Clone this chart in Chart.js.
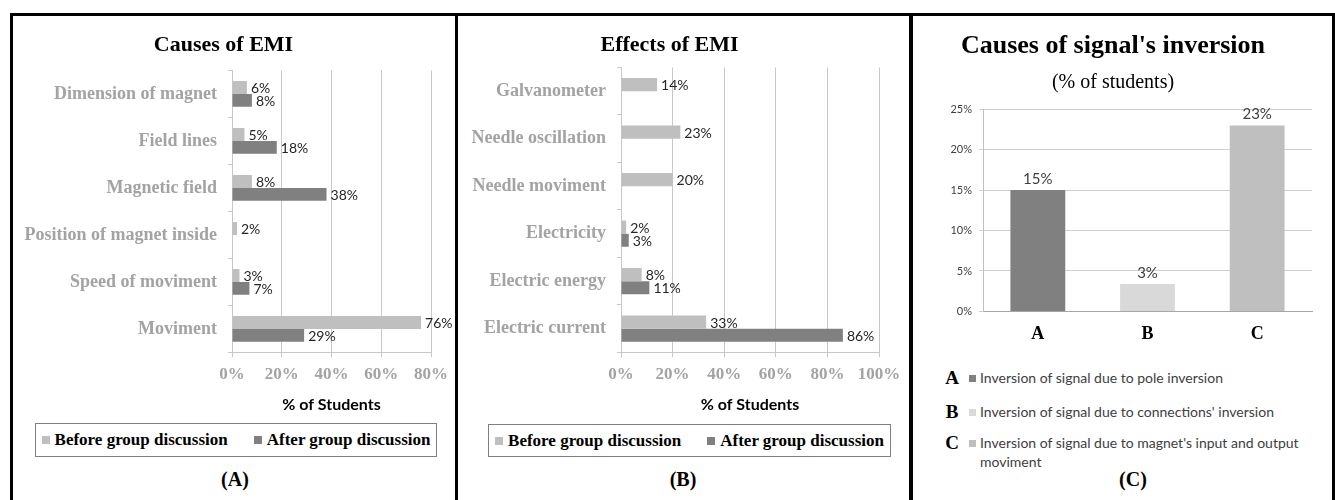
<!DOCTYPE HTML>
<html>
<head>
<title>EMI</title>
<meta charset="utf-8">
<script src="https://cdn.jsdelivr.net/npm/chart.js@4"></script>
<style>
 body { margin:0; width:1335px; height:500px; position:relative; background:#fff; overflow:hidden; }
 .line { position:absolute; background:#000; }
 canvas { position:absolute; }
 .legend { position:absolute; border:1px solid #7f7f7f; display:flex; align-items:center; justify-content:center;
           font:bold 17px "Liberation Serif"; color:#000; box-sizing:border-box; white-space:nowrap; }
 .legend span.sq { display:inline-block; width:8px; height:8px; margin-right:5px; flex:none; }
 .legend span.item { margin:0 13px; display:flex; align-items:center; flex:none; }
 .cap { position:absolute; width:120px; text-align:center; font:bold 20px "Liberation Serif"; color:#000; }
 .keyrow { position:absolute; left:940px; display:flex; align-items:flex-start; }
 .keyrow b { width:24px; text-align:center; font:bold 19px "Liberation Serif"; line-height:20px; }
 .keyrow i { width:7px; height:7px; margin:7px 4px 0 5px; flex:none; }
 .keyrow span { font:14px Lato; color:#404040; width:340px; line-height:19px; }
</style>
</head>
<body>
 <div class="line" style="left:10px;top:13px;width:1325px;height:3px"></div>
 <div class="line" style="left:10px;top:13px;width:3px;height:487px"></div>
 <div class="line" style="left:455px;top:13px;width:3px;height:487px"></div>
 <div class="line" style="left:909px;top:13px;width:4px;height:487px"></div>
 <div class="line" style="left:1332px;top:13px;width:3px;height:487px"></div>

 <canvas id="chartA" width="441" height="400" style="left:14px;top:16px"></canvas>
 <canvas id="chartB" width="448" height="400" style="left:460px;top:16px"></canvas>
 <canvas id="chartC" width="419" height="333" style="left:914px;top:16px"></canvas>

 <div class="legend" id="legA" style="left:35px;top:423px;width:402px;height:34px"></div>
 <div class="legend" id="legB" style="left:488px;top:424px;width:403px;height:33px"></div>
 <div id="keyC"></div>

 <div class="cap" style="left:175px;top:468px">(A)</div>
 <div class="cap" style="left:623px;top:468px">(B)</div>
 <div class="cap" style="left:1073px;top:468px">(C)</div>

<script type="text/javascript">
  // panel A - causes of EMI
  var causesLabels = ["Dimension of magnet", "Field lines", "Magnetic field", "Position of magnet inside", "Speed of moviment", "Moviment"];
  var causesBefore = [6, 5, 8, 2, 3, 76];
  var causesAfter  = [8, 18, 38, null, 7, 29];

  // panel B - effects of EMI
  var effectsLabels = ["Galvanometer", "Needle oscillation", "Needle moviment", "Electricity", "Electric energy", "Electric current"];
  var effectsBefore = [14, 23, 20, 2, 8, 33];
  var effectsAfter  = [null, null, null, 3, 11, 86];

  var seriesNames = ["Before group discussion", "After group discussion"];

  // panel C - signal inversion
  var inversionLabels = ["A", "B", "C"];
  var inversionValues = [15, 3.4, 23];
  var inversionNames = ["Inversion of signal due to pole inversion",
                        "Inversion of signal due to connections' inversion",
                        "Inversion of signal due to magnet's input and output moviment"];

  var chartColors = { light: '#bfbfbf', dark: '#808080', pale: '#d9d9d9', grid: '#c8c8c8', label: '#a3a3a3' };
  var seriesColors = [chartColors.light, chartColors.dark];
  var inversionColors = [chartColors.dark, chartColors.pale, chartColors.light];

  Chart.defaults.animation = false;

  // draws "nn%" next to every bar
  var valueLabels = {
    id: 'valueLabels',
    afterDatasetsDraw: function (chart, args, opts) {
      var ctx = chart.ctx;
      ctx.save();
      ctx.font = opts.font;
      ctx.fillStyle = opts.color;
      chart.data.datasets.forEach(function (ds, i) {
        chart.getDatasetMeta(i).data.forEach(function (bar, j) {
          var v = ds.data[j];
          if (v == null) return;
          var txt = Math.round(v) + '%';
          if (chart.options.indexAxis == 'y') {
            ctx.textAlign = 'left';
            ctx.textBaseline = 'middle';
            ctx.fillText(txt, bar.x + 4, bar.y + 1);
          } else {
            ctx.textAlign = 'center';
            ctx.textBaseline = 'alphabetic';
            ctx.fillText(txt, bar.x, bar.y - 6);
          }
        });
      });
      ctx.restore();
    }
  };

  function hbarChart(id, title, labels, before, after, xmax, axisWidth, padRight, titleBottom) {
    return new Chart(document.getElementById(id), {
      type: 'bar',
      plugins: [valueLabels],
      data: {
        labels: labels,
        datasets: [
          { label: seriesNames[0], data: before, backgroundColor: seriesColors[0], categoryPercentage: 0.55, barPercentage: 1 },
          { label: seriesNames[1], data: after,  backgroundColor: seriesColors[1], categoryPercentage: 0.55, barPercentage: 1 }
        ]
      },
      options: {
        responsive: false,
        indexAxis: 'y',
        layout: { padding: { left: 0, right: padRight, top: 0, bottom: 0 } },
        scales: {
          x: {
            min: 0, max: xmax,
            ticks: { stepSize: 20, padding: 7, color: chartColors.label,
                     font: { family: 'Liberation Serif', size: 17, weight: 'bold' },
                     callback: function (v) { return v + '%'; } },
            grid: { color: chartColors.grid, tickLength: 5 },
            border: { color: chartColors.grid },
            title: { display: true, text: '% of Students', color: '#000',
                     font: { family: 'Lato', size: 16, weight: 'bold' }, padding: { top: 3, bottom: 2 } }
          },
          y: {
            afterFit: function (scale) { scale.width = axisWidth; },
            ticks: { padding: 11, color: chartColors.label,
                     font: { family: 'Liberation Serif', size: 18, weight: 'bold' } },
            grid: { drawOnChartArea: false, color: chartColors.grid, tickLength: 4 },
            border: { color: chartColors.grid }
          }
        },
        plugins: {
          legend: { display: false },
          tooltip: { enabled: false },
          title: { display: true, text: title, color: '#000',
                   font: { family: 'Liberation Serif', size: 22, weight: 'bold' },
                   padding: { top: 16, bottom: titleBottom } },
          valueLabels: { font: '14px Lato', color: '#262626' }
        }
      }
    });
  }

  var chartA = hbarChart('chartA', 'Causes of EMI', causesLabels, causesBefore, causesAfter, 80, 218, 22, 12);
  var chartB = hbarChart('chartB', 'Effects of EMI', effectsLabels, effectsBefore, effectsAfter, 100, 161, 29, 9);

  var chartC = new Chart(document.getElementById('chartC'), {
    type: 'bar',
    plugins: [valueLabels],
    data: {
      labels: inversionLabels,
      datasets: [{ data: inversionValues, backgroundColor: inversionColors, categoryPercentage: 0.5, barPercentage: 1 }]
    },
    options: {
      responsive: false,
      layout: { padding: { left: 0, right: 21, top: 0, bottom: 0 } },
      scales: {
        x: {
          grid: { display: false },
          border: { color: '#a6a6a6' },
          ticks: { padding: 4, color: '#000', font: { family: 'Liberation Serif', size: 18, weight: 'bold' } }
        },
        y: {
          min: 0, max: 25,
          afterFit: function (scale) { scale.width = 69; },
          ticks: { stepSize: 5, padding: 7, color: '#404040', font: { family: 'Lato', size: 11 },
                   callback: function (v) { return v + '%'; } },
          grid: { color: '#d0d0d0', tickLength: 4 },
          border: { color: '#bfbfbf' }
        }
      },
      plugins: {
        legend: { display: false },
        tooltip: { enabled: false },
        title: { display: true, text: "Causes of signal's inversion", color: '#000',
                 font: { family: 'Liberation Serif', size: 26, weight: 'bold' }, padding: { top: 15, bottom: 5 } },
        subtitle: { display: true, text: '(% of students)', color: '#000',
                    font: { family: 'Liberation Serif', size: 20 }, padding: { top: 4, bottom: 14 } },
        valueLabels: { font: '15px Lato', color: '#404040' }
      }
    }
  });

  // html legends
  function fillLegend(id) {
    var html = '';
    for (var i = 0; i < seriesNames.length; i++) {
      html += '<span class="item"><span class="sq" style="background:' + seriesColors[i] + '"></span>' + seriesNames[i] + '</span>';
    }
    document.getElementById(id).innerHTML = html;
  }
  fillLegend('legA');
  fillLegend('legB');

  var keyTops = [368, 402, 433];
  var keyHtml = '';
  for (var k = 0; k < inversionLabels.length; k++) {
    keyHtml += '<div class="keyrow" style="top:' + keyTops[k] + 'px"><b>' + inversionLabels[k] + '</b>' +
               '<i style="background:' + inversionColors[k] + '"></i><span>' + inversionNames[k] + '</span></div>';
  }
  document.getElementById('keyC').innerHTML = keyHtml;
</script>
</body>
</html>
